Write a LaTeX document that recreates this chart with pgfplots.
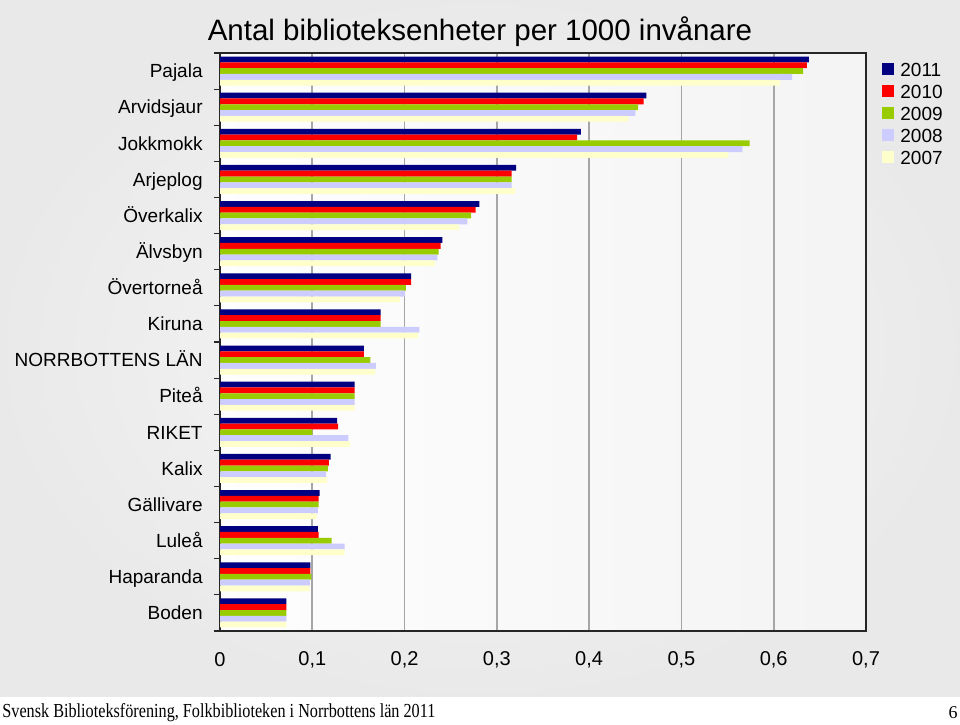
\documentclass[border=0pt]{standalone}
\usepackage{fontspec}
\setmainfont{Liberation Sans}
\newfontfamily\seriffont{Liberation Serif}
\usepackage{pgfplots}
\pgfplotsset{compat=1.18}
\definecolor{c2011}{RGB}{0,0,128}
\definecolor{c2010}{RGB}{255,0,0}
\definecolor{c2009}{RGB}{153,204,0}
\definecolor{c2008}{RGB}{204,204,255}
\definecolor{c2007}{RGB}{255,255,204}
\newcommand\labfont{\fontsize{9.5bp}{11bp}\selectfont}
\newcommand\tickfont{\fontsize{10bp}{12bp}\selectfont}

\begin{document}
\begin{tikzpicture}
\path[use as bounding box] (0,0) rectangle (480bp,362.5bp);
\fill[white] (0,0) rectangle (480bp,362.5bp);
\shade[inner color=gray!6, outer color=gray!17] (0,14bp) rectangle (480bp,362.5bp);
\begin{axis}[
    at={(110bp,47bp)}, anchor=south west,
    width=323bp, height=289bp, scale only axis,
    xbar, bar width=2.9bp,
    xmin=0, xmax=0.7,
    ymin=-0.5, ymax=15.5,
    xtick={0,0.1,0.2,0.3,0.4,0.5,0.6,0.7},
    xticklabel style={font=\tickfont, inner sep=0pt, anchor=center, yshift=-14.5bp},
    /pgf/number format/.cd, use comma, fixed, precision=1, assume math mode=true,
    /pgfplots/.cd,
    ytick={0,...,15},
    yticklabels={Boden,Haparanda,Luleå,Gällivare,Kalix,RIKET,Piteå,NORRBOTTENS LÄN,Kiruna,Övertorneå,Älvsbyn,Överkalix,Arjeplog,Jokkmokk,Arvidsjaur,Pajala},
    yticklabel style={font=\labfont, inner sep=0pt, anchor=east, xshift=-8.5bp,
        text height=6.8bp, text depth=0pt},
    minor ytick={-0.5,0.5,...,15.5},
    major tick length=0pt, minor tick length=3bp,
    tick align=outside, ytick pos=left, xtick pos=bottom,
    minor tick style={black!85, line width=0.6bp},
    xmajorgrids=true,
    major grid style={black!35, line width=0.8bp},
    axis line style={black!85, line width=0.6bp},
    axis background/.style={shade, left color=gray!1, right color=gray!9},
    legend style={at={(1.0248,0.985)}, anchor=north west, draw=none, fill=none,
        inner sep=0pt, font=\labfont, row sep=0pt,
        nodes={inner sep=0pt, anchor=west, text height=7bp, text depth=4bp},
        /tikz/every odd column/.append style={column sep=3bp}},
    legend cell align=left,
    legend image code/.code={\fill[#1] (0bp,-1bp) rectangle (6bp,5bp);},
]
% order: Boden (0) ... Pajala (15)
\addplot[fill=c2011, draw=none, bar shift=5.8bp] coordinates {
 (0.072,0) (0.098,1) (0.106,2) (0.108,3) (0.120,4) (0.127,5) (0.146,6) (0.156,7)
 (0.174,8) (0.207,9) (0.241,10) (0.281,11) (0.321,12) (0.391,13) (0.462,14) (0.638,15)};
\addlegendentry{2011}
\addplot[fill=c2010, draw=none, bar shift=2.9bp] coordinates {
 (0.072,0) (0.098,1) (0.107,2) (0.107,3) (0.118,4) (0.128,5) (0.146,6) (0.156,7)
 (0.174,8) (0.207,9) (0.239,10) (0.277,11) (0.316,12) (0.387,13) (0.459,14) (0.636,15)};
\addlegendentry{2010}
\addplot[fill=c2009, draw=none, bar shift=0bp] coordinates {
 (0.072,0) (0.099,1) (0.121,2) (0.107,3) (0.117,4) (0.100,5) (0.146,6) (0.163,7)
 (0.174,8) (0.2015,9) (0.237,10) (0.272,11) (0.316,12) (0.574,13) (0.453,14) (0.632,15)};
\addlegendentry{2009}
\addplot[fill=c2008, draw=none, bar shift=-2.9bp] coordinates {
 (0.072,0) (0.0975,1) (0.135,2) (0.106,3) (0.115,4) (0.139,5) (0.146,6) (0.169,7)
 (0.216,8) (0.2005,9) (0.2355,10) (0.268,11) (0.316,12) (0.566,13) (0.450,14) (0.620,15)};
\addlegendentry{2008}
\addplot[fill=c2007, draw=none, bar shift=-5.8bp] coordinates {
 (0.072,0) (0.097,1) (0.135,2) (0.105,3) (0.116,4) (0.141,5) (0.146,6) (0.168,7)
 (0.215,8) (0.195,9) (0.233,10) (0.259,11) (0.320,12) (0.551,13) (0.4425,14) (0.607,15)};
\addlegendentry{2007}
\end{axis}
\node[font=\fontsize{14.75bp}{17bp}\selectfont] at (240bp,346.5bp) {Antal biblioteksenheter per 1000 invånare};
\node[anchor=base west, inner sep=0pt] at (1bp,3.5bp) {\resizebox{216.5bp}{7bp}{\seriffont Svensk Biblioteksförening, Folkbiblioteken i Norrbottens län 2011}};
\node[anchor=base east, inner sep=0pt] at (479bp,3.5bp) {\seriffont\fontsize{9bp}{10bp}\selectfont 6};
\end{tikzpicture}
\end{document}
